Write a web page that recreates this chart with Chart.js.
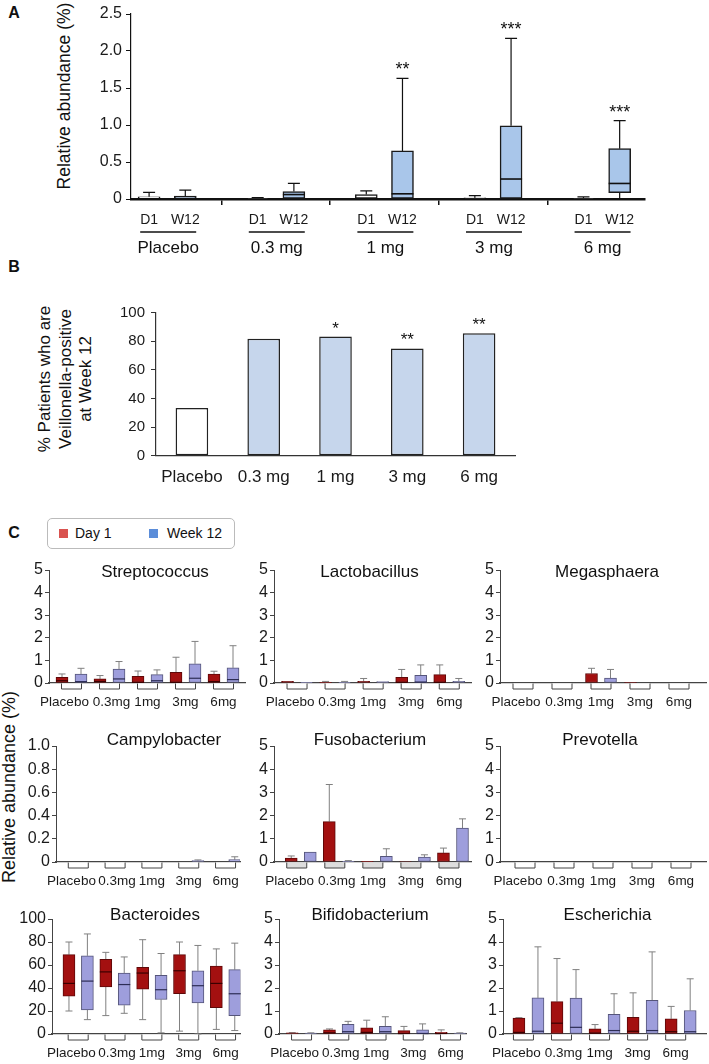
<!DOCTYPE html>
<html>
<head>
<meta charset="utf-8">
<script src="https://cdn.jsdelivr.net/npm/chart.js@4.4.1/dist/chart.umd.min.js"></script>
<style>
  body { margin: 0; width: 709px; height: 1064px; position: relative; overflow: hidden; background: #fff;
         font-family: 'Liberation Sans', Arial, Helvetica, sans-serif; color: #111; }
  canvas { position: absolute; }
  .panel { position: absolute; font-weight: bold; font-size: 16px; transform: translate(-50%, -50%); }
  .rot { position: absolute; transform: translate(-50%, -50%) rotate(-90deg); white-space: nowrap; text-align: center; }
  .gtitle { position: absolute; transform: translate(-50%, -50%); font-size: 17px; white-space: nowrap; z-index: 2; }
  #legend { position: absolute; left: 47px; top: 518px; width: 186px; height: 29px; border: 1px solid #bbb;
            border-radius: 5px; font-size: 14px; }
  #legend span { position: absolute; }
  .sq { width: 9px; height: 9px; top: 10px; }
</style>
</head>
<body>
<div class="panel" style="left:14px;top:13px">A</div>
<div class="panel" style="left:14px;top:267px">B</div>
<div class="panel" style="left:14px;top:533px">C</div>

<div class="rot" style="left:64px;top:96px;font-size:17.5px">Relative abundance (%)</div>
<div class="rot" style="left:66px;top:379px;font-size:17px;line-height:20.5px">% Patients who are<br>Veillonella-positive<br>at Week 12</div>
<div class="rot" style="left:9px;top:787px;font-size:18px">Relative abundance (%)</div>

<div id="legend">
  <span class="sq" style="left:11px;background:#d9534f"></span><span style="left:27px;top:6px">Day 1</span>
  <span class="sq" style="left:101px;background:#5b8dd9"></span><span style="left:119px;top:6px">Week 12</span>
</div>

<script>
// ---- Panel A: Veillonella relative abundance, box stats [min, q1, median, q3, max]
const doseGroupsA = ['Placebo', '0.3 mg', '1 mg', '3 mg', '6 mg'];
const timeLabelsA = ['D1', 'W12', ''];
const yTicksA = [0, 0.5, 1.0, 1.5, 2.0, 2.5];
const veillonellaD1 = [[0, 0, 0, 0.03, 0.09], [0, 0, 0, 0.01, 0.02], [0, 0, 0, 0.06, 0.11], [0, 0, 0, 0.015, 0.045], [0, 0, 0, 0.01, 0.03]];
const veillonellaW12 = [[0, 0, 0, 0.04, 0.12], [0, 0, 0.06, 0.1, 0.21], [0, 0, 0.07, 0.65, 1.63], [0, 0, 0.27, 0.99, 2.17], [0, 0.085, 0.21, 0.68, 1.06]];
const starsA = ['', '', '**', '***', '***'];

// ---- Panel B: % patients Veillonella-positive at week 12
const doseGroupsB = ['Placebo', '0.3 mg', '1 mg', '3 mg', '6 mg'];
const positivePct = [33.3, 81.8, 83.3, 75.0, 85.7];
const starsB = ['', '', '*', '**', '**'];

// ---- Panel C: genera, box stats [min, q1, median, q3, max] (null median = no line)
const doseLabelsC = ['Placebo', '0.3mg', '1mg', '3mg', '6mg'];
const genusNames = ['Streptococcus', 'Lactobacillus', 'Megasphaera', 'Campylobacter', 'Fusobacterium',
                    'Prevotella', 'Bacteroides', 'Bifidobacterium', 'Escherichia'];

const streptococcusD1 = [[0, 0, 0.1, 0.25, 0.4], [0, 0, 0.07, 0.18, 0.33], [0, 0, 0.03, 0.3, 0.53], [0, 0, 0.03, 0.47, 1.14], [0, 0, 0.06, 0.4, 0.52]];
const streptococcusW12 = [[0, 0, 0.06, 0.4, 0.65], [0, 0, 0.18, 0.62, 0.95], [0, 0, 0.1, 0.37, 0.58], [0, 0, 0.21, 0.85, 1.84], [0, 0, 0.15, 0.67, 1.65]];
const lactobacillusD1 = [[0, 0, null, 0.07, 0.07], [0, 0, null, 0.03, 0.07], [0, 0, null, 0.07, 0.2], [0, 0, 0.03, 0.25, 0.6], [0, 0, 0.03, 0.37, 0.8]];
const lactobacillusW12 = [[0, 0, null, 0.01, 0.01], [0, 0, null, 0.03, 0.07], [0, 0, null, 0.06, 0.06], [0, 0, 0.04, 0.34, 0.8], [0, 0, null, 0.07, 0.2]];
const megasphaeraD1 = [[0, 0, null, 0, 0], [0, 0, null, 0, 0], [0, 0, null, 0.42, 0.65], [0, 0, null, 0.02, 0.02], [0, 0, null, 0, 0]];
const megasphaeraW12 = [[0, 0, null, 0, 0], [0, 0, null, 0, 0], [0, 0, null, 0.22, 0.6], [0, 0, null, 0, 0], [0, 0, null, 0, 0]];
const campylobacterD1 = [[0, 0, null, 0, 0], [0, 0, null, 0, 0], [0, 0, null, 0, 0], [0, 0, null, 0, 0], [0, 0, null, 0, 0]];
const campylobacterW12 = [[0, 0, null, 0, 0], [0, 0, null, 0, 0], [0, 0, null, 0, 0], [0, 0, null, 0.012, 0.018], [0, 0, null, 0.02, 0.045]];
const fusobacteriumD1 = [[0, 0, null, 0.17, 0.26], [0, 0, null, 1.74, 3.34], [0, 0, null, 0.01, 0.01], [0, 0, null, 0.02, 0.02], [0, 0, null, 0.39, 0.6]];
const fusobacteriumW12 = [[0, 0, null, 0.43, 0.43], [0, 0, null, 0.03, 0.06], [0, 0, null, 0.24, 0.57], [0, 0, null, 0.21, 0.31], [0, 0, null, 1.46, 1.86]];
const prevotellaD1 = [[0, 0, null, 0, 0], [0, 0, null, 0, 0], [0, 0, null, 0, 0], [0, 0, null, 0, 0], [0, 0, null, 0, 0]];
const prevotellaW12 = [[0, 0, null, 0, 0], [0, 0, null, 0, 0], [0, 0, null, 0, 0], [0, 0, null, 0, 0], [0, 0, null, 0, 0]];
const bacteroidesD1 = [[20, 33, 44, 69, 80], [16, 41, 54, 65, 71], [12.5, 39, 53, 58, 82], [2.5, 35, 55, 69, 80], [4, 23, 44, 59, 74]];
const bacteroidesW12 = [[12.5, 21, 46, 68, 87], [18, 25, 43, 53, 67], [1, 30, 38.5, 51, 70], [0, 27, 42, 55, 77], [3, 16, 35, 56, 79]];
const bifidobacteriumD1 = [[0, 0, null, 0.05, 0.06], [0, 0, 0.05, 0.18, 0.22], [0, 0, 0.07, 0.27, 0.6], [0, 0, 0.02, 0.15, 0.33], [0, 0, 0.02, 0.07, 0.18]];
const bifidobacteriumW12 = [[0, 0, null, 0.04, 0.05], [0, 0, 0.1, 0.42, 0.55], [0, 0, 0.1, 0.33, 0.75], [0, 0, 0.02, 0.18, 0.44], [0, 0, null, 0.04, 0.05]];
const escherichiaD1 = [[0, 0, 0.07, 0.69, 0.71], [0, 0, 0.47, 1.41, 3.28], [0, 0, 0.04, 0.22, 0.41], [0, 0, 0.12, 0.73, 1.79], [0, 0, 0.1, 0.66, 1.2]];
const escherichiaW12 = [[0, 0, 0.12, 1.57, 3.79], [0, 0, 0.29, 1.56, 2.8], [0, 0, 0.15, 0.86, 1.75], [0, 0, 0.15, 1.46, 3.57], [0, 0, 0.1, 1.02, 2.4]];

const FONT = "'Liberation Sans', Arial, Helvetica, sans-serif";
Chart.defaults.font.family = FONT;
Chart.defaults.color = '#1a1a1a';
Chart.defaults.animation = false;
Chart.defaults.plugins.legend.display = false;
Chart.defaults.plugins.tooltip.enabled = false;

// small nudges (px) of the dose labels under the panel C axes, so they don't collide
const labelNudgeC = [-7, 2, 0, 0, 0];

function addCanvas(left, top, w, h) {
    const c = document.createElement('canvas');
    c.width = Math.round(w);
    c.height = Math.round(h);
    c.style.left = left + 'px';
    c.style.top = top + 'px';
    document.body.appendChild(c);
    return c;
}

// whiskers, medians and significance stars drawn from the dataset stats through the scales
const boxPlugin = {
    id: 'boxes',
    beforeDatasetsDraw(chart, args, o) {
        const ctx = chart.ctx, y = chart.scales.y;
        chart.data.datasets.forEach(function (ds, di) {
            if (!ds.stats) return;
            chart.getDatasetMeta(di).data.forEach(function (bar, i) {
                const s = ds.stats[i];
                ctx.save();
                ctx.strokeStyle = o.whiskerColor;
                ctx.lineWidth = o.whiskerWidth;
                if (s[4] > s[3]) {
                    const top = y.getPixelForValue(s[4]);
                    ctx.beginPath();
                    ctx.moveTo(bar.x, y.getPixelForValue(s[3]));
                    ctx.lineTo(bar.x, top);
                    ctx.moveTo(bar.x - o.capHalf, top);
                    ctx.lineTo(bar.x + o.capHalf, top);
                    ctx.stroke();
                }
                if (s[0] < s[1]) {
                    const bot = y.getPixelForValue(s[0]);
                    ctx.beginPath();
                    ctx.moveTo(bar.x, y.getPixelForValue(s[1]));
                    ctx.lineTo(bar.x, bot);
                    ctx.moveTo(bar.x - o.capHalf, bot);
                    ctx.lineTo(bar.x + o.capHalf, bot);
                    ctx.stroke();
                }
                ctx.restore();
            });
        });
    },
    afterDatasetsDraw(chart, args, o) {
        const ctx = chart.ctx, y = chart.scales.y;
        chart.data.datasets.forEach(function (ds, di) {
            chart.getDatasetMeta(di).data.forEach(function (bar, i) {
                ctx.save();
                if (ds.stats && ds.stats[i][2] !== null && ds.stats[i][3] > ds.stats[i][1]) {
                    const my = y.getPixelForValue(ds.stats[i][2]);
                    ctx.strokeStyle = ds.medianColor || '#111';
                    ctx.lineWidth = o.medianWidth;
                    ctx.beginPath();
                    ctx.moveTo(bar.x - bar.width / 2, my);
                    ctx.lineTo(bar.x + bar.width / 2, my);
                    ctx.stroke();
                }
                if (ds.stars && ds.stars[i]) {
                    const top = ds.stats ? y.getPixelForValue(ds.stats[i][4]) : bar.y;
                    ctx.fillStyle = '#111';
                    ctx.font = o.starFont + 'px ' + FONT;
                    ctx.textAlign = 'center';
                    ctx.textBaseline = 'alphabetic';
                    ctx.fillText(ds.stars[i], bar.x, top - o.starGap);
                }
                ctx.restore();
            });
        });
    }
};

// panel A: D1/W12 underline and dose group names
const groupLabelPlugin = {
    id: 'groupLabels',
    afterDraw(chart, args, o) {
        const x = chart.scales.x, ctx = chart.ctx;
        ctx.save();
        ctx.strokeStyle = '#111';
        ctx.lineWidth = 1.3;
        ctx.fillStyle = '#111';
        ctx.font = '17px ' + FONT;
        ctx.textAlign = 'center';
        ctx.textBaseline = 'middle';
        o.labels.forEach(function (lab, g) {
            const cx = (x.getPixelForValue(3 * g) + x.getPixelForValue(3 * g + 1)) / 2 + 1;
            ctx.beginPath();
            ctx.moveTo(cx - 28, o.lineY);
            ctx.lineTo(cx + 28, o.lineY);
            ctx.stroke();
            ctx.fillText(lab, cx, o.textY);
        });
        ctx.restore();
    }
};

// panel C: small open brackets under the axis at each dose group
const bracketPlugin = {
    id: 'brackets',
    afterDraw(chart, args, o) {
        const x = chart.scales.x, ctx = chart.ctx;
        const y0 = chart.chartArea.bottom + 0.5;
        ctx.save();
        ctx.strokeStyle = '#444';
        ctx.lineWidth = 1;
        ctx.fillStyle = o.fill;
        for (let g = 0; g < 5; g++) {
            const cx = x.getPixelForValue(g) + o.shift;
            ctx.fillRect(cx - 10, y0, 20, 5.5);
            ctx.beginPath();
            ctx.moveTo(cx - 10, y0);
            ctx.lineTo(cx - 10, y0 + 5.5);
            ctx.lineTo(cx + 10, y0 + 5.5);
            ctx.lineTo(cx + 10, y0);
            ctx.stroke();
        }
        ctx.restore();
    }
};

// ---------------- Panel A
const aCanvas = addCanvas(0, 0, 660, 262);
new Chart(aCanvas, {
    type: 'bar',
    data: {
        datasets: [{
            data: veillonellaD1.map(function (s, i) { return { x: 3 * i, y: [s[1], s[3]] }; }),
            stats: veillonellaD1,
            backgroundColor: '#ffffff',
            borderColor: '#1a1a1a',
            borderWidth: 1.5,
            borderSkipped: false,
            barThickness: 22,
            grouped: false
        }, {
            data: veillonellaW12.map(function (s, i) { return { x: 3 * i + 1, y: [s[1], s[3]] }; }),
            stats: veillonellaW12,
            stars: starsA,
            backgroundColor: '#a9c6ea',
            borderColor: '#1a1a1a',
            borderWidth: 1.5,
            borderSkipped: false,
            barThickness: 22,
            grouped: false
        }]
    },
    options: {
        responsive: false,
        layout: { padding: { top: 14, right: 15, left: 0, bottom: 0 } },
        scales: {
            x: {
                type: 'linear', min: -0.5, max: 13.7, offset: false,
                afterFit: function (s) { s.height = 63; },
                afterBuildTicks: function (s) {
                    s.ticks = Array.from({ length: 14 }, function (_, i) { return { value: i }; });
                },
                ticks: { autoSkip: false, maxRotation: 0, padding: 7, font: { size: 14 },
                         callback: function (v) { return timeLabelsA[v % 3]; } },
                grid: { offset: false, drawOnChartArea: false, tickLength: 6, lineWidth: 1.5,
                        color: function (c) { return (c.tick && c.tick.value % 3 === 2) ? '#111' : 'rgba(0,0,0,0)'; } },
                border: { display: true, color: '#111', width: 2.5 }
            },
            y: {
                min: 0, max: 2.5,
                afterFit: function (s) { s.width = 131; },
                afterBuildTicks: function (s) { s.ticks = yTicksA.map(function (v) { return { value: v }; }); },
                ticks: { padding: 4, font: { size: 16 },
                         callback: function (v) { return v === 0 ? '0' : v.toFixed(1); } },
                grid: { drawOnChartArea: false, tickLength: 5, color: '#111' },
                border: { color: '#111', width: 1.2 }
            }
        },
        plugins: {
            boxes: { whiskerColor: '#111', whiskerWidth: 1.2, capHalf: 6, medianWidth: 1.6, starFont: 18, starGap: 3 },
            groupLabels: { labels: doseGroupsA, lineY: 232, textY: 248 }
        }
    },
    plugins: [boxPlugin, groupLabelPlugin]
});

// ---------------- Panel B
const bCanvas = addCanvas(0, 290, 530, 200);
new Chart(bCanvas, {
    type: 'bar',
    data: {
        labels: doseGroupsB,
        datasets: [{
            data: positivePct,
            stars: starsB,
            backgroundColor: function (c) { return c.dataIndex === 0 ? '#ffffff' : '#c6d6ec'; },
            borderColor: '#222',
            borderWidth: 1.5,
            borderSkipped: false,
            barPercentage: 0.454,
            categoryPercentage: 1
        }]
    },
    options: {
        responsive: false,
        layout: { padding: { top: 22.7, right: 15, left: 0, bottom: 0 } },
        scales: {
            x: {
                afterFit: function (s) { s.height = 34.3; },
                grid: { display: false, drawTicks: false },
                ticks: { padding: 11, font: { size: 17 } },
                border: { display: true, color: '#333', width: 1.2 }
            },
            y: {
                min: 0, max: 100,
                afterFit: function (s) { s.width = 156; },
                ticks: { stepSize: 20, padding: 6, font: { size: 15 } },
                grid: { drawOnChartArea: false, tickLength: 5, color: '#333' },
                border: { color: '#333', width: 1.2 }
            }
        },
        plugins: {
            boxes: { whiskerColor: '#111', whiskerWidth: 1, capHalf: 5, medianWidth: 1, starFont: 17, starGap: 3 }
        }
    },
    plugins: [boxPlugin]
});

// ---------------- Panel C
function smallChart(d1, w12, yMax, yStep, geo) {
    const yW = 44, padTop = 14, xH = 32, padR = 4;
    const cv = addCanvas(geo.axisX - yW, geo.top - padTop,
        geo.right - geo.axisX + yW + padR, geo.bottom - geo.top + padTop + xH);
    const off = 9.5 / geo.step;
    const shift = geo.shift || 0;
    function series(stats, dx, fill, edge, median) {
        return {
            data: stats.map(function (s, i) { return { x: i + dx, y: [s[1], s[3]] }; }),
            stats: stats,
            backgroundColor: fill,
            borderColor: edge,
            borderWidth: 1,
            borderSkipped: false,
            barThickness: 12,
            grouped: false,
            medianColor: median
        };
    }
    new Chart(cv, {
        type: 'bar',
        data: { datasets: [
            series(d1, -off, '#a31010', '#5e0808', '#3a0000'),
            series(w12, off, '#9e9edc', '#55557a', '#2d2d55')
        ] },
        options: {
            responsive: false,
            layout: { padding: { top: padTop, right: padR, left: 0, bottom: 0 } },
            scales: {
                x: {
                    type: 'linear', offset: false,
                    min: -(geo.first - geo.axisX) / geo.step,
                    max: (geo.right - geo.first) / geo.step,
                    afterFit: function (s) { s.height = xH; },
                    afterBuildTicks: function (s) {
                        s.ticks = doseLabelsC.map(function (_, g) {
                            return { value: g + (shift + labelNudgeC[g]) / geo.step };
                        });
                    },
                    ticks: { autoSkip: false, maxRotation: 0, padding: 11, font: { size: 13.5 },
                             callback: function (v, i) { return doseLabelsC[i]; } },
                    grid: { display: false, drawTicks: false, offset: false },
                    border: { display: true, color: '#444', width: 1.2 }
                },
                y: {
                    min: 0, max: yMax,
                    afterFit: function (s) { s.width = yW; },
                    afterBuildTicks: function (s) {
                        const t = [];
                        for (let v = 0; v <= yMax + 1e-9; v += yStep) t.push({ value: Math.round(v * 100) / 100 });
                        s.ticks = t;
                    },
                    ticks: { padding: 2, font: { size: 16 },
                             callback: function (v) { return (yMax === 1 && v !== 0) ? v.toFixed(1) : String(v); } },
                    grid: { drawOnChartArea: false, tickLength: 4, color: '#444' },
                    border: { color: '#444', width: 1 }
                }
            },
            plugins: {
                boxes: { whiskerColor: '#808080', whiskerWidth: 1, capHalf: 3.5, medianWidth: 1.2, starFont: 14, starGap: 2 },
                brackets: { shift: shift, fill: geo.fill || '#ffffff' }
            }
        },
        plugins: [boxPlugin, bracketPlugin]
    });
}

const row1 = { top: 570, bottom: 682.5 };
const row2 = { top: 746, bottom: 861.5 };
const row3 = { top: 919, bottom: 1034 };
function geo(row, axisX, first, step, right, shift, fill) {
    return { top: row.top, bottom: row.bottom, axisX: axisX, first: first, step: step, right: right, shift: shift, fill: fill };
}

smallChart(streptococcusD1, streptococcusW12, 5, 1, geo(row1, 49, 71.5, 38, 245));
smallChart(lactobacillusD1, lactobacillusW12, 5, 1, geo(row1, 274.3, 297.3, 38, 471));
smallChart(megasphaeraD1, megasphaeraW12, 5, 1, geo(row1, 500, 523, 39, 706));
smallChart(campylobacterD1, campylobacterW12, 1, 0.2, geo(row2, 56, 79, 38, 246));
smallChart(fusobacteriumD1, fusobacteriumW12, 5, 1, geo(row2, 274.3, 301, 38, 471, -4, '#dddddd'));
smallChart(prevotellaD1, prevotellaW12, 5, 1, geo(row2, 500, 525, 39, 706));
smallChart(bacteroidesD1, bacteroidesW12, 100, 20, geo(row3, 51.7, 78.7, 38, 246));
smallChart(bifidobacteriumD1, bifidobacteriumW12, 5, 1, geo(row3, 279.3, 302.3, 38, 471));
smallChart(escherichiaD1, escherichiaW12, 5, 1, geo(row3, 503.3, 528.7, 38, 706, -5));

// genus titles over each small chart
const titlePos = [[155, 572], [369.5, 572], [607, 572], [164, 740], [370, 740], [600, 740], [155, 915], [370, 915], [607.5, 915]];
genusNames.forEach(function (name, i) {
    const d = document.createElement('div');
    d.className = 'gtitle';
    d.style.left = titlePos[i][0] + 'px';
    d.style.top = titlePos[i][1] + 'px';
    d.textContent = name;
    document.body.appendChild(d);
});
</script>
</body>
</html>
